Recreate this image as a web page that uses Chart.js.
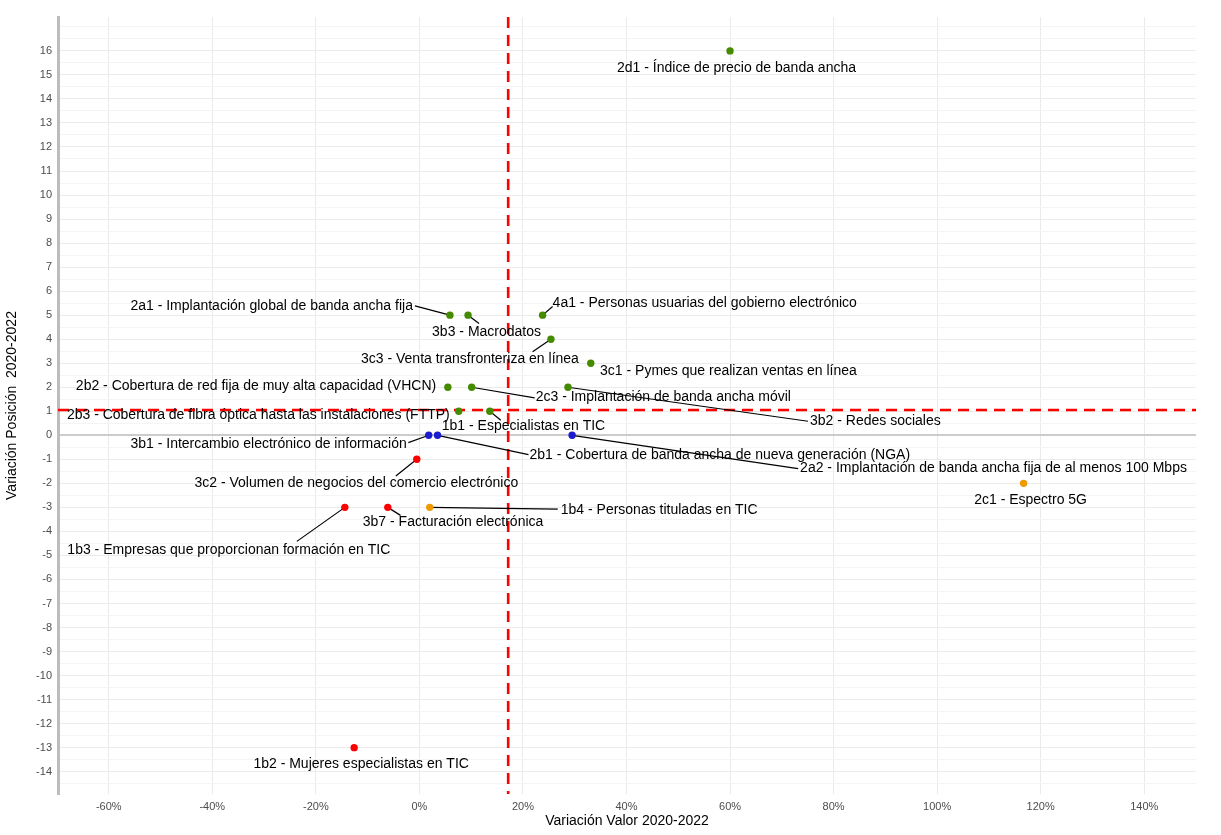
<!DOCTYPE html>
<html>
<head>
<meta charset="utf-8">
<script src="https://cdn.jsdelivr.net/npm/chart.js@4.4.1/dist/chart.umd.min.js"></script>
<style>
html,body{margin:0;padding:0;background:#fff;}
#wrap{width:1221px;height:835px;}
</style>
</head>
<body>
<div id="wrap"><canvas id="c" width="1221" height="835"></canvas></div>
<script>
// ---- data ----
const codes = ['2d1','4a1','2a1','3b3','3c3','3c1','2b2','2c3','3b2','2b3','1b1','3b1','2b1','2a2','3c2','2c1','1b3','3b7','1b4','1b2'];
const names = [
  'Índice de precio de banda ancha',
  'Personas usuarias del gobierno electrónico',
  'Implantación global de banda ancha fija',
  'Macrodatos',
  'Venta transfronteriza en línea',
  'Pymes que realizan ventas en línea',
  'Cobertura de red fija de muy alta capacidad (VHCN)',
  'Implantación de banda ancha móvil',
  'Redes sociales',
  'Cobertura de fibra óptica hasta las instalaciones (FTTP)',
  'Especialistas en TIC',
  'Intercambio electrónico de información',
  'Cobertura de banda ancha de nueva generación (NGA)',
  'Implantación de banda ancha fija de al menos 100 Mbps',
  'Volumen de negocios del comercio electrónico',
  'Espectro 5G',
  'Empresas que proporcionan formación en TIC',
  'Facturación electrónica',
  'Personas tituladas en TIC',
  'Mujeres especialistas en TIC'
];
// Variación Valor 2020-2022 (%)
const valueChange = [60.0, 23.8, 5.9, 9.4, 25.4, 33.1, 5.5, 10.1, 28.7, 7.6, 13.6, 1.8, 3.5, 29.5, -0.5, 116.7, -14.4, -6.1, 2.0, -12.6];
// Variación Posición 2020-2022
const positionChange = [16, 5, 5, 5, 4, 3, 2, 2, 2, 1, 1, 0, 0, 0, -1, -2, -3, -3, -3, -13];
// group: 'sube' (position up), 'igual' (same), 'mixto' (value up, position down), 'baja' (both down)
const groups = ['sube','sube','sube','sube','sube','sube','sube','sube','sube','sube','sube','igual','igual','igual','baja','mixto','baja','baja','mixto','baja'];
const xTickValues = [-60, -40, -20, 0, 20, 40, 60, 80, 100, 120, 140];
const yTickLabels = [-14, -13, -12, -11, -10, -9, -8, -7, -6, -5, -4, -3, -2, -1, 0, 1, 2, 3, 4, 5, 6, 7, 8, 9, 10, 11, 12, 13, 14, 15, 16];
const yGridValues = [];
for (let v = -14.5; v <= 17; v += 0.5) yGridValues.push(v);

// ---- styles / layout (not data) ----
const groupColors = { sube: '#458B00', igual: '#1C1CCD', mixto: '#EE9A00', baja: '#FF0000' };
// label layout: [align, dx, dy, leaderEnd (dx,dy) or null] relative to point pixel
const labelLayout = {
  '2d1': ['center', 6.5, 17, null],
  '4a1': ['left', 10, -12, [10, -8.6]],
  '2a1': ['right', -37, -9, [-35, -9.3]],
  '3b3': ['center', 18.5, 17, [11, 8.3]],
  '3c3': ['right', 28, 20, [-18.3, 12.6]],
  '3c1': ['left', 9.3, 8, null],
  '2b2': ['right', -11.7, -0.7, null],
  '2c3': ['left', 64, 10.3, [63, 10.6]],
  '3b2': ['left', 242, 34, [240, 34]],
  '2b3': ['right', -9, 4.3, null],
  '1b1': ['left', -48, 15.3, [11, 9]],
  '3b1': ['right', -22, 9, [-20.4, 7.3]],
  '2b1': ['left', 92, 20, [91, 19.3]],
  '2a2': ['left', 228, 33, [226, 33.3]],
  '3c2': ['center', -60.5, 24, [-21, 16.7]],
  '2c1': ['center', 7, 16.5, null],
  '1b3': ['center', -116, 42.5, [-48, 34]],
  '3b7': ['left', -25, 15, [12.7, 8]],
  '1b4': ['left', 131, 2.5, [128, 1.7]],
  '1b2': ['center', 7, 16.3, null]
};

const meanX = valueChange.reduce((a, b) => a + b, 0) / valueChange.length;
const meanY = positionChange.reduce((a, b) => a + b, 0) / positionChange.length;

const points = valueChange.map((v, i) => ({ x: v, y: positionChange[i] }));
const pointColors = groups.map(g => groupColors[g]);

const FONT = "'Liberation Sans', Arial, Helvetica, sans-serif";

const meanLines = {
  id: 'meanLines',
  beforeDatasetsDraw(chart) {
    const { ctx, chartArea: a, scales: { x, y } } = chart;
    ctx.save();
    ctx.beginPath();
    ctx.rect(a.left, a.top, a.right - a.left, a.bottom - a.top);
    ctx.clip();
    ctx.strokeStyle = '#FF0000';
    ctx.lineWidth = 2.6;
    ctx.setLineDash([11, 7]);
    const mx = x.getPixelForValue(meanX);
    const my = y.getPixelForValue(meanY);
    ctx.beginPath(); ctx.moveTo(mx, a.top); ctx.lineTo(mx, a.bottom); ctx.stroke();
    ctx.beginPath(); ctx.moveTo(a.left, my); ctx.lineTo(a.right, my); ctx.stroke();
    ctx.setLineDash([]);
    // leader segments
    ctx.strokeStyle = '#000';
    ctx.lineWidth = 1.2;
    codes.forEach((c, i) => {
      const L = labelLayout[c];
      if (!L[3]) return;
      const px = x.getPixelForValue(valueChange[i]);
      const py = y.getPixelForValue(positionChange[i]);
      ctx.beginPath();
      ctx.moveTo(px, py);
      ctx.lineTo(px + L[3][0], py + L[3][1]);
      ctx.stroke();
    });
    ctx.restore();
  },
  afterDatasetsDraw(chart) {
    const { ctx, scales: { x, y } } = chart;
    ctx.save();
    ctx.font = '14px ' + FONT;
    ctx.fillStyle = '#000';
    ctx.textBaseline = 'middle';
    codes.forEach((c, i) => {
      const L = labelLayout[c];
      const px = x.getPixelForValue(valueChange[i]);
      const py = y.getPixelForValue(positionChange[i]);
      ctx.textAlign = L[0];
      ctx.fillText(c + ' - ' + names[i], px + L[1], py + L[2]);
    });
    ctx.restore();
  }
};

new Chart(document.getElementById('c'), {
  type: 'scatter',
  data: {
    datasets: [{
      data: points,
      backgroundColor: pointColors,
      borderWidth: 0,
      pointRadius: 3.7,
      pointHoverRadius: 3.7
    }]
  },
  options: {
    responsive: false,
    devicePixelRatio: 1,
    animation: false,
    events: [],
    layout: { padding: { left: 0, right: 25, top: 17, bottom: 0 } },
    plugins: { legend: { display: false }, tooltip: { enabled: false } },
    scales: {
      x: {
        type: 'linear',
        min: -69.8, max: 150,
        afterBuildTicks: s => { s.ticks = xTickValues.map(v => ({ value: v })); },
        afterFit: s => { s.height = 41; },
        ticks: {
          autoSkip: false, maxRotation: 0, padding: 6,
          color: '#4D4D4D', font: { family: FONT, size: 11 },
          callback: v => v + '%'
        },
        grid: { color: '#EBEBEB', lineWidth: 1, drawTicks: false },
        border: { display: false },
        title: { display: true, text: 'Variación Valor 2020-2022', color: '#000', font: { family: FONT, size: 14 }, padding: { top: 0, bottom: 5 } }
      },
      y: {
        type: 'linear',
        min: -14.93, max: 17.41,
        afterBuildTicks: s => { s.ticks = yGridValues.map(v => ({ value: v })); },
        afterFit: s => { s.width = 58; },
        ticks: {
          autoSkip: false, padding: 6,
          color: '#4D4D4D', font: { family: FONT, size: 11 },
          callback: v => (yTickLabels.includes(v) ? String(v) : '')
        },
        grid: {
          drawTicks: false,
          color: c => {
            const v = c.tick ? c.tick.value : 0;
            if (v === 0) return '#CCCCCC';
            return yTickLabels.includes(v) ? '#EBEBEB' : '#F4F4F4';
          },
          lineWidth: c => (c.tick && c.tick.value === 0 ? 2 : 1)
        },
        border: { display: true, color: '#BDBDBD', width: 3 },
        title: { display: true, text: 'Variación Posición  2020-2022', color: '#000', font: { family: FONT, size: 14 }, padding: { top: 4, bottom: 0 } }
      }
    }
  },
  plugins: [meanLines]
});
</script>
</body>
</html>
